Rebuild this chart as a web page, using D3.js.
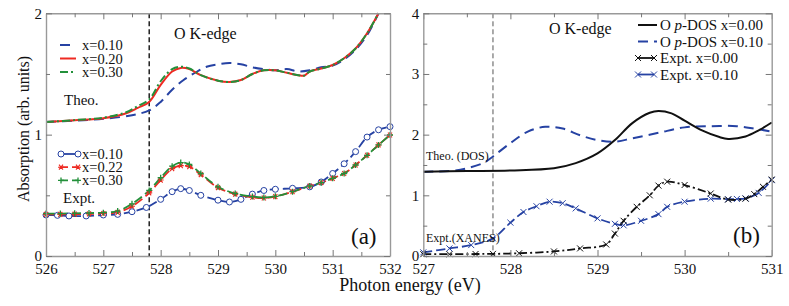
<!DOCTYPE html>
<html>
<head>
<meta charset="utf-8">
<script src="https://cdn.jsdelivr.net/npm/d3@7"></script>
<style>
  body { margin: 0; background: #fff; }
</style>
</head>
<body>
<svg id="chart" width="789" height="306"></svg>
<script>
// ---- panel (a) data: theory ----
const theoE10 = [526, 526.5, 527, 527.5, 527.8, 528.0, 528.2, 528.4, 528.6, 528.8, 529.0, 529.2, 529.4, 529.6, 529.8, 530.0, 530.2, 530.4, 530.6, 530.8, 531.0, 531.2, 531.4, 531.6, 531.8];
const theoA10 = [1.104, 1.115, 1.13, 1.16, 1.20, 1.27, 1.37, 1.45, 1.51, 1.56, 1.58, 1.59, 1.58, 1.555, 1.54, 1.53, 1.54, 1.52, 1.53, 1.555, 1.57, 1.62, 1.70, 1.82, 2.0];
const theoE20 = [526, 526.5, 527, 527.4, 527.6, 527.8, 528.0, 528.2, 528.35, 528.5, 528.7, 529.0, 529.2, 529.4, 529.6, 529.8, 530.0, 530.2, 530.4, 530.5, 530.6, 530.8, 531.0, 531.2, 531.4, 531.6, 531.8];
const theoA20 = [1.104, 1.118, 1.135, 1.176, 1.22, 1.27, 1.41, 1.52, 1.55, 1.54, 1.49, 1.445, 1.434, 1.45, 1.50, 1.53, 1.53, 1.51, 1.49, 1.486, 1.52, 1.545, 1.574, 1.63, 1.71, 1.835, 2.0];
const theoA30 = [1.104, 1.12, 1.14, 1.185, 1.235, 1.29, 1.44, 1.54, 1.56, 1.545, 1.49, 1.445, 1.434, 1.45, 1.50, 1.53, 1.53, 1.51, 1.49, 1.486, 1.52, 1.545, 1.574, 1.63, 1.71, 1.835, 2.0];

// ---- panel (a) data: experiment ----
const exptE10 = [526, 526.2, 526.4, 526.7, 527, 527.25, 527.5, 527.75, 528.0, 528.2, 528.35, 528.5, 528.7, 529.0, 529.2, 529.4, 529.6, 529.8, 530.0, 530.3, 530.6, 530.8, 531.0, 531.2, 531.4, 531.6, 531.8, 532.0];
const exptA10 = [0.338, 0.335, 0.33, 0.33, 0.338, 0.343, 0.365, 0.40, 0.467, 0.53, 0.555, 0.54, 0.50, 0.46, 0.445, 0.467, 0.51, 0.54, 0.55, 0.558, 0.57, 0.61, 0.68, 0.76, 0.86, 0.98, 1.04, 1.066];
const exptE22 = [526, 526.25, 526.5, 526.75, 527, 527.25, 527.5, 527.8, 528.0, 528.2, 528.35, 528.5, 528.7, 529.0, 529.3, 529.6, 529.8, 530.0, 530.3, 530.6, 530.8, 531.0, 531.2, 531.4, 531.6, 531.8, 532.0];
const exptA22 = [0.343, 0.343, 0.345, 0.347, 0.35, 0.36, 0.41, 0.52, 0.626, 0.72, 0.745, 0.736, 0.67, 0.563, 0.51, 0.484, 0.478, 0.49, 0.53, 0.577, 0.604, 0.64, 0.68, 0.75, 0.83, 0.915, 0.997];
const exptA30 = [0.35, 0.35, 0.352, 0.354, 0.357, 0.37, 0.43, 0.54, 0.645, 0.74, 0.77, 0.755, 0.68, 0.57, 0.515, 0.49, 0.482, 0.492, 0.53, 0.577, 0.604, 0.64, 0.68, 0.75, 0.83, 0.915, 0.997];

// ---- panel (b) data ----
const dosE00 = [527, 527.5, 528.0, 528.5, 528.75, 529.0, 529.2, 529.4, 529.6, 529.7, 529.85, 530.0, 530.2, 530.4, 530.5, 530.7, 530.85, 531.0];
const dosA00 = [1.39, 1.40, 1.41, 1.445, 1.53, 1.69, 1.91, 2.19, 2.36, 2.39, 2.35, 2.23, 2.07, 1.96, 1.93, 1.97, 2.07, 2.20];
const dosE10 = [527, 527.3, 527.5, 527.7, 527.8, 528.0, 528.2, 528.4, 528.6, 528.8, 529.0, 529.2, 529.4, 529.7, 530.0, 530.3, 530.6, 530.8, 531.0];
const dosA10 = [1.39, 1.40, 1.445, 1.54, 1.64, 1.86, 2.05, 2.13, 2.10, 1.99, 1.91, 1.885, 1.94, 2.03, 2.12, 2.14, 2.14, 2.10, 2.05];
const xanE00 = [527, 527.3, 527.6, 527.8, 528.1, 528.5, 528.8, 529.1, 529.2, 529.3, 529.45, 529.6, 529.7, 529.8, 530.0, 530.3, 530.5, 530.7, 530.8, 530.9, 531.0];
const xanA00 = [0.03, 0.03, 0.033, 0.035, 0.045, 0.075, 0.125, 0.19, 0.37, 0.58, 0.81, 1.0, 1.16, 1.225, 1.17, 1.03, 0.93, 0.945, 1.02, 1.14, 1.26];
const xanE10 = [527, 527.3, 527.55, 527.8, 528.0, 528.15, 528.3, 528.45, 528.6, 528.75, 529.0, 529.2, 529.3, 529.5, 529.7, 529.8, 530.0, 530.3, 530.5, 530.6, 530.7, 530.85, 531.0];
const xanA10 = [0.06, 0.125, 0.18, 0.29, 0.55, 0.725, 0.82, 0.895, 0.87, 0.785, 0.62, 0.53, 0.505, 0.58, 0.69, 0.81, 0.895, 0.945, 0.935, 0.94, 0.95, 1.04, 1.25];

const legendA1 = ["x=0.10", "x=0.20", "x=0.30"];
const legendA2 = ["x=0.10", "x=0.22", "x=0.30"];

const SERIF = "Liberation Serif";
const BLUE = "#2642a3", RED = "#ee2a22", GREEN = "#23903a", BLACK = "#111";
const svg = d3.select("#chart");
const plotTop = 13.3, plotBottom = 256;

function zip(xs, ys) { return xs.map((x, i) => [x, ys[i]]); }

function frame(g, x, y, xTicks, yTicks, xMinor, yMinor) {
  const [x0, x1] = x.range(), [y0, y1] = y.range();
  const fmt = d3.format("d");
  const axes = [
    [d3.axisBottom(x).tickValues(xTicks).tickFormat(fmt), "translate(0," + y0 + ")", 7],
    [d3.axisTop(x).tickValues(xTicks).tickFormat(""), "translate(0," + y1 + ")", 0],
    [d3.axisLeft(y).tickValues(yTicks).tickFormat(fmt), "translate(" + x0 + ",0)", 4],
    [d3.axisRight(y).tickValues(yTicks).tickFormat(""), "translate(" + x1 + ",0)", 0]
  ];
  axes.forEach(([ax, tr, pad]) => {
    const a = g.append("g").attr("transform", tr)
      .call(ax.tickSizeInner(-6).tickSizeOuter(0).tickPadding(pad));
    a.select(".domain").attr("stroke", "#999").attr("stroke-width", 1.4);
    a.selectAll(".tick line").attr("stroke", "#777");
    a.selectAll(".tick text").attr("font-size", 15);
  });
  [[d3.axisBottom(x).tickValues(xMinor), "translate(0," + y0 + ")"],
   [d3.axisTop(x).tickValues(xMinor), "translate(0," + y1 + ")"],
   [d3.axisLeft(y).tickValues(yMinor), "translate(" + x0 + ",0)"],
   [d3.axisRight(y).tickValues(yMinor), "translate(" + x1 + ",0)"]].forEach(([ax, tr]) => {
    const a = g.append("g").attr("transform", tr)
      .call(ax.tickSizeInner(-4).tickSizeOuter(0).tickFormat(""));
    a.select(".domain").remove();
    a.selectAll(".tick line").attr("stroke", "#777");
  });
}

function curve(g, x, y, pts, color, dash, width) {
  const line = d3.line().x(d => x(d[0])).y(d => y(d[1])).curve(d3.curveCatmullRom.alpha(0.5));
  g.append("path").datum(pts).attr("d", line).attr("fill", "none")
    .attr("stroke", color).attr("stroke-width", width || 2).attr("stroke-dasharray", dash || null);
}

function marker(g, type, cx, cy, color) {
  if (type === "circle") {
    g.append("circle").attr("cx", cx).attr("cy", cy).attr("r", 3)
      .attr("fill", "#fff").attr("stroke", color).attr("stroke-width", 1);
  } else if (type === "plus") {
    g.append("path").attr("d", `M${cx - 3},${cy}H${cx + 3}M${cx},${cy - 3}V${cy + 3}`)
      .attr("stroke", color).attr("stroke-width", 1.3);
  } else if (type === "cross") {
    g.append("path").attr("d", `M${cx - 3},${cy - 3}L${cx + 3},${cy + 3}M${cx - 3},${cy + 3}L${cx + 3},${cy - 3}`)
      .attr("stroke", color).attr("stroke-width", 1);
  } else if (type === "star") {
    g.append("path").attr("d", `M${cx - 3},${cy}H${cx + 3}M${cx - 2},${cy - 2.5}L${cx + 2},${cy + 2.5}M${cx - 2},${cy + 2.5}L${cx + 2},${cy - 2.5}`)
      .attr("stroke", color).attr("stroke-width", 1.1);
  }
}

function markers(g, x, y, pts, type, color) {
  pts.forEach(d => marker(g, type, x(d[0]), y(d[1]), color));
}

// ================= panel (a) =================
const xa = d3.scaleLinear().domain([526, 532]).range([46, 390]);
const ya = d3.scaleLinear().domain([0, 2]).range([plotBottom, plotTop]);
const ga = svg.append("g");

ga.append("line").attr("x1", xa(527.8)).attr("x2", xa(527.8)).attr("y1", plotTop).attr("y2", plotBottom)
  .attr("stroke", "#111").attr("stroke-width", 1.4).attr("stroke-dasharray", "5,3");

curve(ga, xa, ya, zip(theoE10, theoA10), BLUE, "10,6");
curve(ga, xa, ya, zip(theoE20, theoA20), RED, null);
curve(ga, xa, ya, zip(theoE20, theoA30), GREEN, "8,3,2,3");

curve(ga, xa, ya, zip(exptE10, exptA10), BLUE, "9,4", 1.8);
curve(ga, xa, ya, zip(exptE22, exptA22), RED, "9,4", 1.8);
curve(ga, xa, ya, zip(exptE22, exptA30), GREEN, "9,4", 1.8);
markers(ga, xa, ya, zip(exptE10, exptA10), "circle", BLUE);
markers(ga, xa, ya, zip(exptE22, exptA22), "star", RED);
markers(ga, xa, ya, zip(exptE22, exptA30), "plus", GREEN);

frame(ga, xa, ya, d3.range(526, 532.01, 1), [0, 1, 2], d3.range(526.5, 532, 1), [0.5, 1.5]);

// legends (a)
const legA1Style = [[BLUE, "10,6"], [RED, null], [GREEN, "8,3,2,3"]];
legendA1.forEach((t, i) => {
  const yy = 45 + i * 13.5;
  ga.append("line").attr("x1", 60).attr("x2", 76).attr("y1", yy).attr("y2", yy)
    .attr("stroke", legA1Style[i][0]).attr("stroke-width", 2).attr("stroke-dasharray", legA1Style[i][1]);
  ga.append("text").attr("x", 82).attr("y", yy + 5).attr("font-size", 14.5).text(t);
});
const legA2Style = [[BLUE, "circle"], [RED, "star"], [GREEN, "plus"]];
legendA2.forEach((t, i) => {
  const yy = 154 + i * 13.2;
  ga.append("line").attr("x1", 61).attr("x2", 78).attr("y1", yy).attr("y2", yy)
    .attr("stroke", legA2Style[i][0]).attr("stroke-width", 1.8).attr("stroke-dasharray", i === 0 ? null : "7,4");
  marker(ga, legA2Style[i][1], 61, yy, legA2Style[i][0]);
  marker(ga, legA2Style[i][1], 78, yy, legA2Style[i][0]);
  ga.append("text").attr("x", 82).attr("y", yy + 5).attr("font-size", 14.5).text(t);
});
ga.append("text").attr("x", 174).attr("y", 39).attr("font-size", 16).text("O K-edge");
ga.append("text").attr("x", 64).attr("y", 105).attr("font-size", 15).text("Theo.");
ga.append("text").attr("x", 63).attr("y", 203).attr("font-size", 15).text("Expt.");
ga.append("text").attr("x", 351).attr("y", 244).attr("font-size", 23).text("(a)");

// ================= panel (b) =================
const xb = d3.scaleLinear().domain([527, 531]).range([423.3, 771.7]);
const yb = d3.scaleLinear().domain([0, 4]).range([plotBottom, plotTop]);
const gb = svg.append("g");

gb.append("line").attr("x1", xb(527.8)).attr("x2", xb(527.8)).attr("y1", plotTop).attr("y2", plotBottom)
  .attr("stroke", "#555").attr("stroke-width", 1).attr("stroke-dasharray", "5,3");

curve(gb, xb, yb, zip(dosE10, dosA10), BLUE, "10,6");
curve(gb, xb, yb, zip(dosE00, dosA00), BLACK, null);
curve(gb, xb, yb, zip(xanE10, xanA10), BLUE, "9,4", 1.8);
curve(gb, xb, yb, zip(xanE00, xanA00), BLACK, "8,3,2,3", 1.8);
markers(gb, xb, yb, zip(xanE10, xanA10), "cross", BLUE);
markers(gb, xb, yb, zip(xanE00, xanA00), "cross", BLACK);

frame(gb, xb, yb, d3.range(527, 531.01, 1), [0, 1, 2, 3, 4], d3.range(527.5, 531, 1), [0.5, 1.5, 2.5, 3.5]);

const legB = [
  { pre: "O ", it: "p", post: "-DOS x=0.00", color: BLACK, dash: null, mk: null },
  { pre: "O ", it: "p", post: "-DOS x=0.10", color: BLUE, dash: "10,6", mk: null },
  { pre: "Expt. x=0.00", it: "", post: "", color: BLACK, dash: "6,3", mk: "cross" },
  { pre: "Expt. x=0.10", it: "", post: "", color: BLUE, dash: "6,3", mk: "cross" }
];
legB.forEach((d, i) => {
  const yy = 25 + i * 16.5;
  if (d.mk) {
    gb.append("line").attr("x1", 638).attr("x2", 654).attr("y1", yy).attr("y2", yy)
      .attr("stroke", d.color).attr("stroke-width", 1.8);
    marker(gb, "cross", 638, yy, d.color);
    marker(gb, "cross", 654, yy, d.color);
  } else {
    gb.append("line").attr("x1", 638).attr("x2", 657).attr("y1", yy).attr("y2", yy)
      .attr("stroke", d.color).attr("stroke-width", 2).attr("stroke-dasharray", d.dash);
  }
  const t = gb.append("text").attr("x", 660).attr("y", yy + 5).attr("font-size", 15);
  t.append("tspan").text(d.pre);
  if (d.it) t.append("tspan").attr("font-style", "italic").text(d.it);
  if (d.post) t.append("tspan").text(d.post);
});
gb.append("text").attr("x", 549).attr("y", 34).attr("font-size", 16).text("O K-edge");
gb.append("text").attr("x", 426).attr("y", 160).attr("font-size", 12).text("Theo. (DOS)");
gb.append("text").attr("x", 426).attr("y", 242).attr("font-size", 12).text("Expt.(XANES)");
gb.append("text").attr("x", 733).attr("y", 243).attr("font-size", 23).text("(b)");

// shared axis titles
svg.append("text").attr("x", 410).attr("y", 291).attr("text-anchor", "middle")
  .attr("font-size", 18).text("Photon energy (eV)");
svg.append("text").attr("transform", "translate(29,129) rotate(-90)").attr("text-anchor", "middle")
  .attr("font-size", 16).text("Absorption (arb. units)");

// d3 axes put font-family="sans-serif" on their groups; override every text directly
svg.selectAll("g").attr("font-family", null);
svg.selectAll("text").style("font-family", SERIF).attr("fill", "#111");
</script>
</body>
</html>
